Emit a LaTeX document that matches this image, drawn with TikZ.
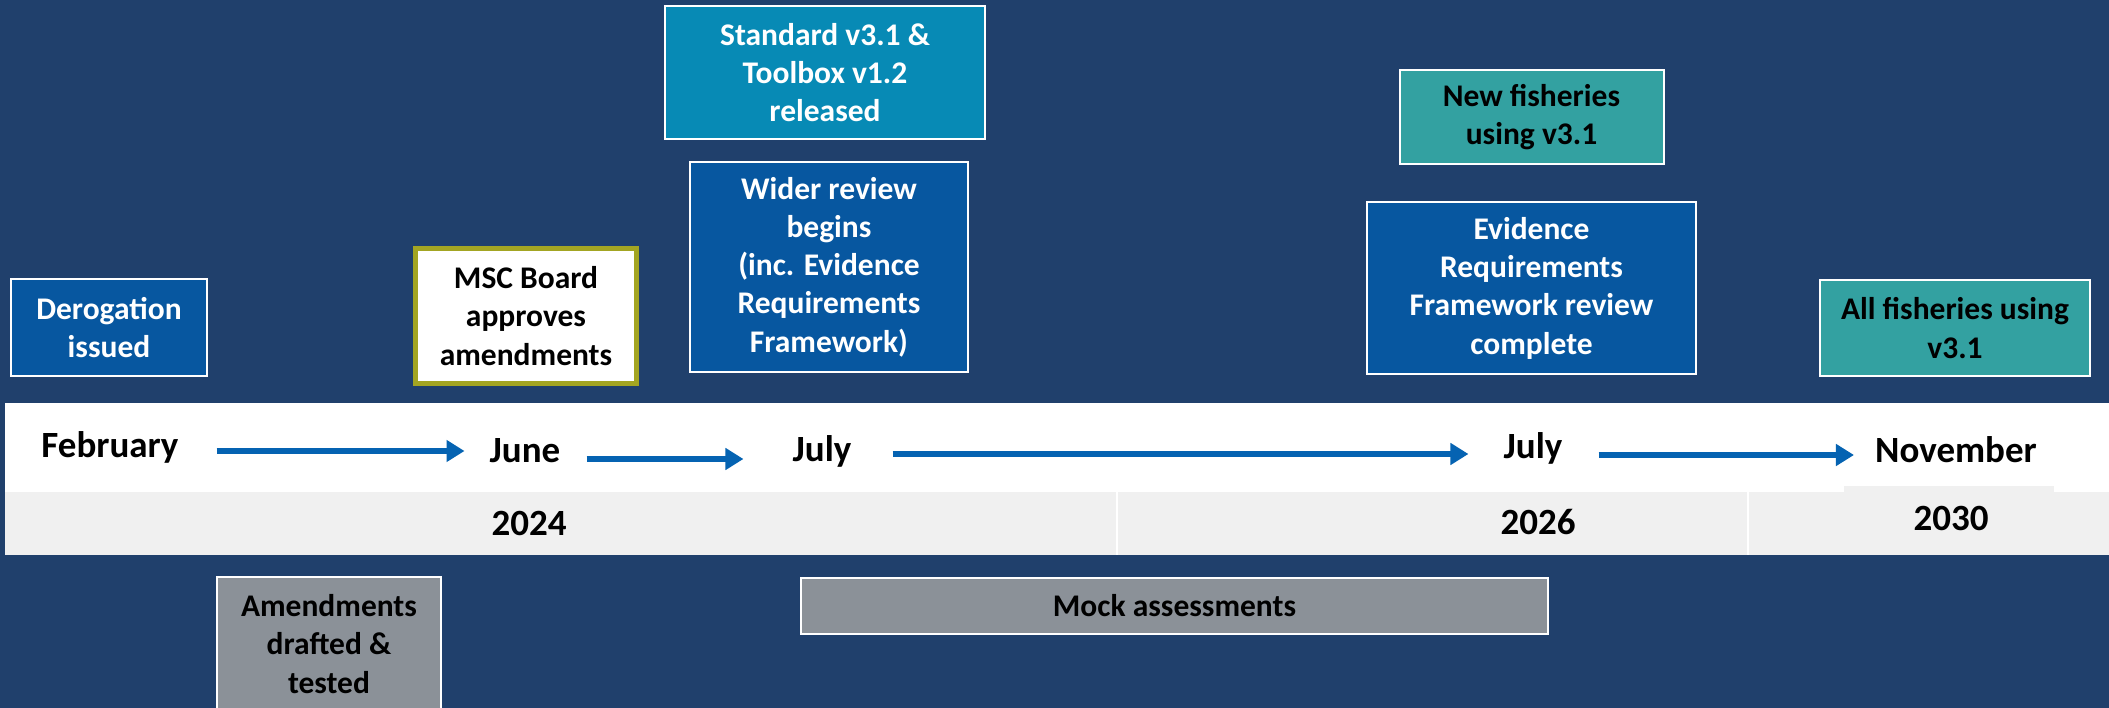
\documentclass[tikz,border=0pt]{standalone}
\usepackage{fontspec}
\setmainfont{Carlito}
\usepackage{tikz}
\usetikzlibrary{arrows.meta,positioning}
\definecolor{navyi}{RGB}{32,64,108}
\definecolor{bluei}{RGB}{7,87,160}
\definecolor{blueii}{RGB}{7,138,181}
\definecolor{blueiii}{RGB}{5,99,178}
\definecolor{greeni}{RGB}{51,161,161}
\definecolor{grayi}{RGB}{139,145,152}
\definecolor{grayii}{RGB}{240,240,240}
\definecolor{olivei}{RGB}{163,165,34}
\newcommand\boxfont{\fontsize{31.5}{38.3}\selectfont\bfseries}
\newcommand\tlfont{\fontsize{37}{44}\selectfont\bfseries}
\tikzset{
      myblock/.style 2 args={
        draw=white,
        fill=#1,
        line width=2pt,
        align=center,
        text=#2,
        font=\boxfont,
        inner sep=0pt
      },
      mymonth/.style={
        font=\tlfont,
        anchor=base,
        inner sep=0pt,
        text height=26pt,
        text depth=8pt
      },
      myyear/.style={
        font=\tlfont,
        anchor=base,
        inner sep=0pt
      },
      myarrow/.style={
        draw=blueiii,
        line width=6pt,
        -{Triangle[length=18pt,width=21pt]}
      },
    }

\begin{document}
\begin{tikzpicture}[x=1pt,y=-1pt]

          \useasboundingbox (0,0) rectangle (2109,708);
          \fill[navyi] (0,0) rectangle (2109,708);
          \fill[white] (5,403) rectangle (2109,492);
          \fill[grayii] (5,492) rectangle (2109,555);
          \fill[grayii] (1844,486) rectangle (2054,492);
          \draw[white,line width=2pt] (1117,492) -- (1117,555) (1748,492) -- (1748,555);

          \node[mymonth] (feb) at (110,457) {February};
          \node[mymonth] (june) at (525,462) {June};
          \node[mymonth] (july1) at (822,461) {July};
          \node[mymonth] (july2) at (1533,458) {July};
          \node[mymonth] (nov) at (1956,462) {November};

          \node[myyear] (y2024) at (529,535) {2024};
          \node[myyear] (y2026) at (1538,534) {2026};
          \node[myyear] (y2030) at (1951,530) {2030};

          \node[myblock={bluei}{white},minimum width=196pt,minimum height=97pt]
            (derog) at (109,327.5)
            {Derogation\\issued};

          \node[myblock={white}{black},draw=olivei,line width=5pt,
            minimum width=221pt,minimum height=135pt]
            (board) at (526,316)
            {MSC Board\\approves\\amendments};

          \node[myblock={bluei}{white},minimum width=278pt,minimum height=210pt]
            (wider) at (829,267)
            {Wider review\\begins\\(inc. Evidence\\Requirements\\Framework)};
          \node[myblock={blueii}{white},minimum width=320pt,minimum height=133pt,
            above=21pt of wider,xshift=-4pt]
            (standard)
            {Standard v3.1 \&\\Toolbox v1.2\\released};

          \node[myblock={bluei}{white},minimum width=329pt,minimum height=172pt]
            (evidence) at (1531.5,288)
            {Evidence\\Requirements\\Framework review\\complete};
          \node[myblock={greeni}{black},minimum width=264pt,minimum height=94pt,
            above=36pt of evidence]
            (newfish)
            {New fisheries\\using v3.1};

          \node[myblock={greeni}{black},minimum width=270pt,minimum height=96pt]
            (allfish) at (1955,328)
            {All fisheries using\\v3.1};

          \node[myblock={grayi}{black},minimum width=224pt,minimum height=134pt]
            (amend) at (329,644)
            {Amendments\\drafted \&\\tested};
          \node[myblock={grayi}{black},minimum width=747pt,minimum height=56pt]
            (mock) at (1174.5,606)
            {Mock assessments};

          \draw[myarrow,shorten <=38pt,shorten >=25pt]
            ([yshift=-3pt]feb.east) coordinate (a1) -- (june.west |- a1);
          \draw[myarrow,shorten <=26pt,shorten >=49pt]
            ([yshift=-6pt]june.east) coordinate (a2) -- (july1.west |- a2);
          \draw[myarrow,shorten <=41pt,shorten >=35pt]
            ([yshift=-2pt]july1.east) coordinate (a3) -- (july2.west |- a3);
          \draw[myarrow,shorten <=36pt,shorten >=21pt]
            ([yshift=-6pt]july2.east) coordinate (a4) -- (nov.west |- a4);

\end{tikzpicture}
\end{document}
